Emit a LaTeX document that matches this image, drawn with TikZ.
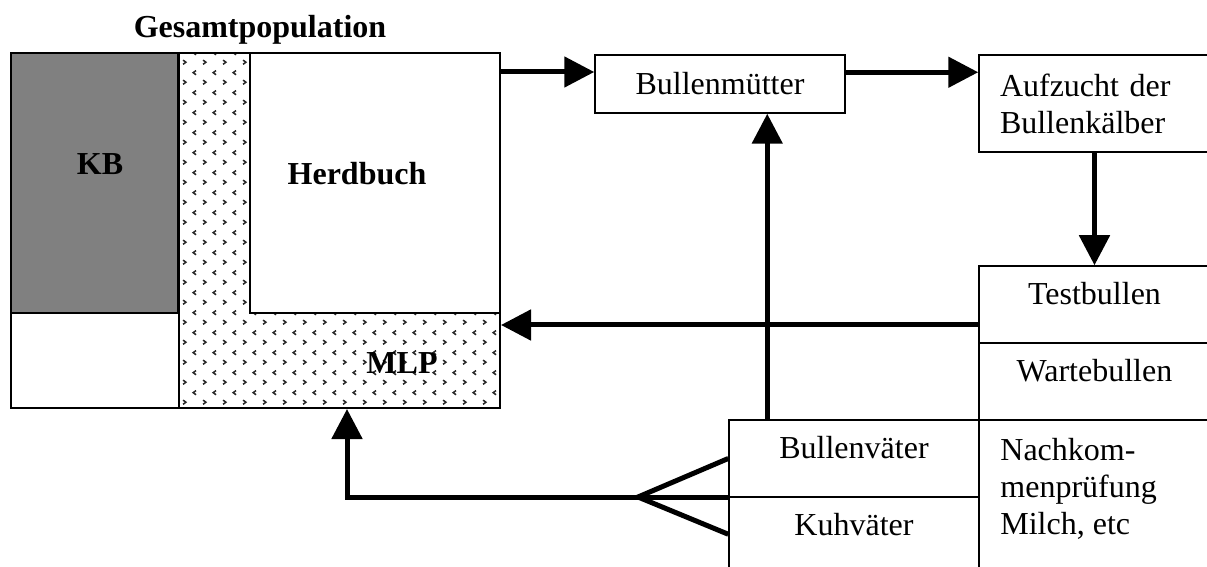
\documentclass[tikz,border=0pt]{standalone}
\usepackage{fontspec}
\setmainfont{Liberation Serif}
\usetikzlibrary{arrows.meta, positioning, calc, patterns}
\definecolor{cKB}{RGB}{128,128,128}
\definecolor{cDots}{RGB}{40,40,40}
\pgfdeclarepatternformonly{mlpdots}{\pgfqpoint{0pt}{0pt}}{\pgfqpoint{10pt}{10pt}}{\pgfqpoint{10pt}{10pt}}{
	\pgfsetlinewidth{0.8pt}
	\pgfpathmoveto{\pgfqpoint{1.6pt}{3.6pt}}\pgfpathlineto{\pgfqpoint{3.1pt}{2.5pt}}\pgfpathlineto{\pgfqpoint{1.6pt}{1.4pt}}
	\pgfpathmoveto{\pgfqpoint{8.4pt}{8.6pt}}\pgfpathlineto{\pgfqpoint{6.9pt}{7.5pt}}\pgfpathlineto{\pgfqpoint{8.4pt}{6.4pt}}
	\pgfusepath{stroke}
}
\tikzset{
	popbox/.style  ={rectangle, draw=black, line width=1pt, inner sep=0pt},
	box/.style     ={rectangle, draw=black, line width=0.75pt, inner sep=0pt, align=center},
	cell/.style    ={box, minimum width=115.5pt, minimum height=38.5pt, text height=11pt, text depth=11pt},
	poplabel/.style={font=\fontsize{16}{18.5}\selectfont\bfseries, inner sep=0pt},
	% thick connectors
	flow/.style    ={-{Triangle[length=15pt, width=15pt]}, line width=2.5pt},
	branch/.style  ={line width=2.5pt},
}

\begin{document}
\begin{tikzpicture}[x=0.5pt, y=-0.5pt, font=\fontsize{16}{18.5}\selectfont]
	\path[use as bounding box, clip] (0,0) rectangle (1207,567);
	% Gesamtpopulation
	\fill[pattern=mlpdots, pattern color=cDots] (178,53) rectangle (500,408);
	\node[popbox, fill=cKB, minimum width=83.5pt, minimum height=130pt] (kb) at (94.5,183) {};
	\node[popbox, fill=white, minimum width=125pt, minimum height=130pt] (herd) at (375,183) {};
	\draw[line width=1pt] (kb.north east) -- (kb.north east |- 0,408);
	\node[popbox, minimum width=244.5pt, minimum height=177.5pt] (pop) at (255.5,230.5) {};
	\node[poplabel, anchor=base] (title) at (260,38) {Gesamtpopulation};
	\node[poplabel, anchor=base] (kbtext) at (100,175) {KB};
	\node[poplabel, anchor=base] (herdtext) at (357,185) {Herdbuch};
	\node[poplabel, anchor=base] (mlptext) at (402,373) {MLP};

	\node[box, minimum width=125pt, minimum height=29pt] (mutter) at (720,84) {Bullenmütter};
	\node[box, minimum width=115.5pt, minimum height=48.5pt, align=left, text width=94.5pt, inner xsep=10.5pt] (aufzucht) at (1094.5,103.5) {Aufzucht der\\Bullenkälber};
	\node[cell] (test) at (1094.5,304.5) {Testbullen};
	\node[cell] (warte) at (1094.5,381.5) {Wartebullen};
	\node[box, minimum width=115.5pt, minimum height=90pt] (nach) at (1094.5,510) {};
	\node[anchor=north west, align=left, inner sep=0pt] (nachtext) at (1000,438) {Nachkom-\\menprüfung\\Milch, etc};
	\node[cell, minimum width=125pt] (bvater) at (854,458.5) {Bullenväter};
	\node[cell, minimum width=125pt] (kvater) at (854,535.5) {Kuhväter};

	\coordinate (p1) at ($(pop.north east)+(0,20)$);
	\coordinate (m1) at ($(mutter.north east)+(0,18)$);
	\coordinate (t1) at ($(test.west)+(0,20.5)$);
	\coordinate (b1) at ($(bvater.north west)+(39,0)$);
	\coordinate (k1) at ($(kvater.north west)+(0,38)$);
	\coordinate (r1) at ($(pop.south west)+(337,0)$);
	\coordinate (fork) at (638,497);
	\draw[flow] (p1) -- (p1 -| mutter.west);
	\draw[flow] (m1) -- (m1 -| aufzucht.west);
	\draw[flow] (aufzucht.south) -- (test.north);
	\draw[flow] (t1) -- (t1 -| pop.east);
	\draw[flow] (b1) -- (b1 |- mutter.south);
	\draw[branch] (bvater.west) -- (fork) -- (k1);
	\draw[flow] (bvater.south west) -| (r1);
\end{tikzpicture}
\end{document}
